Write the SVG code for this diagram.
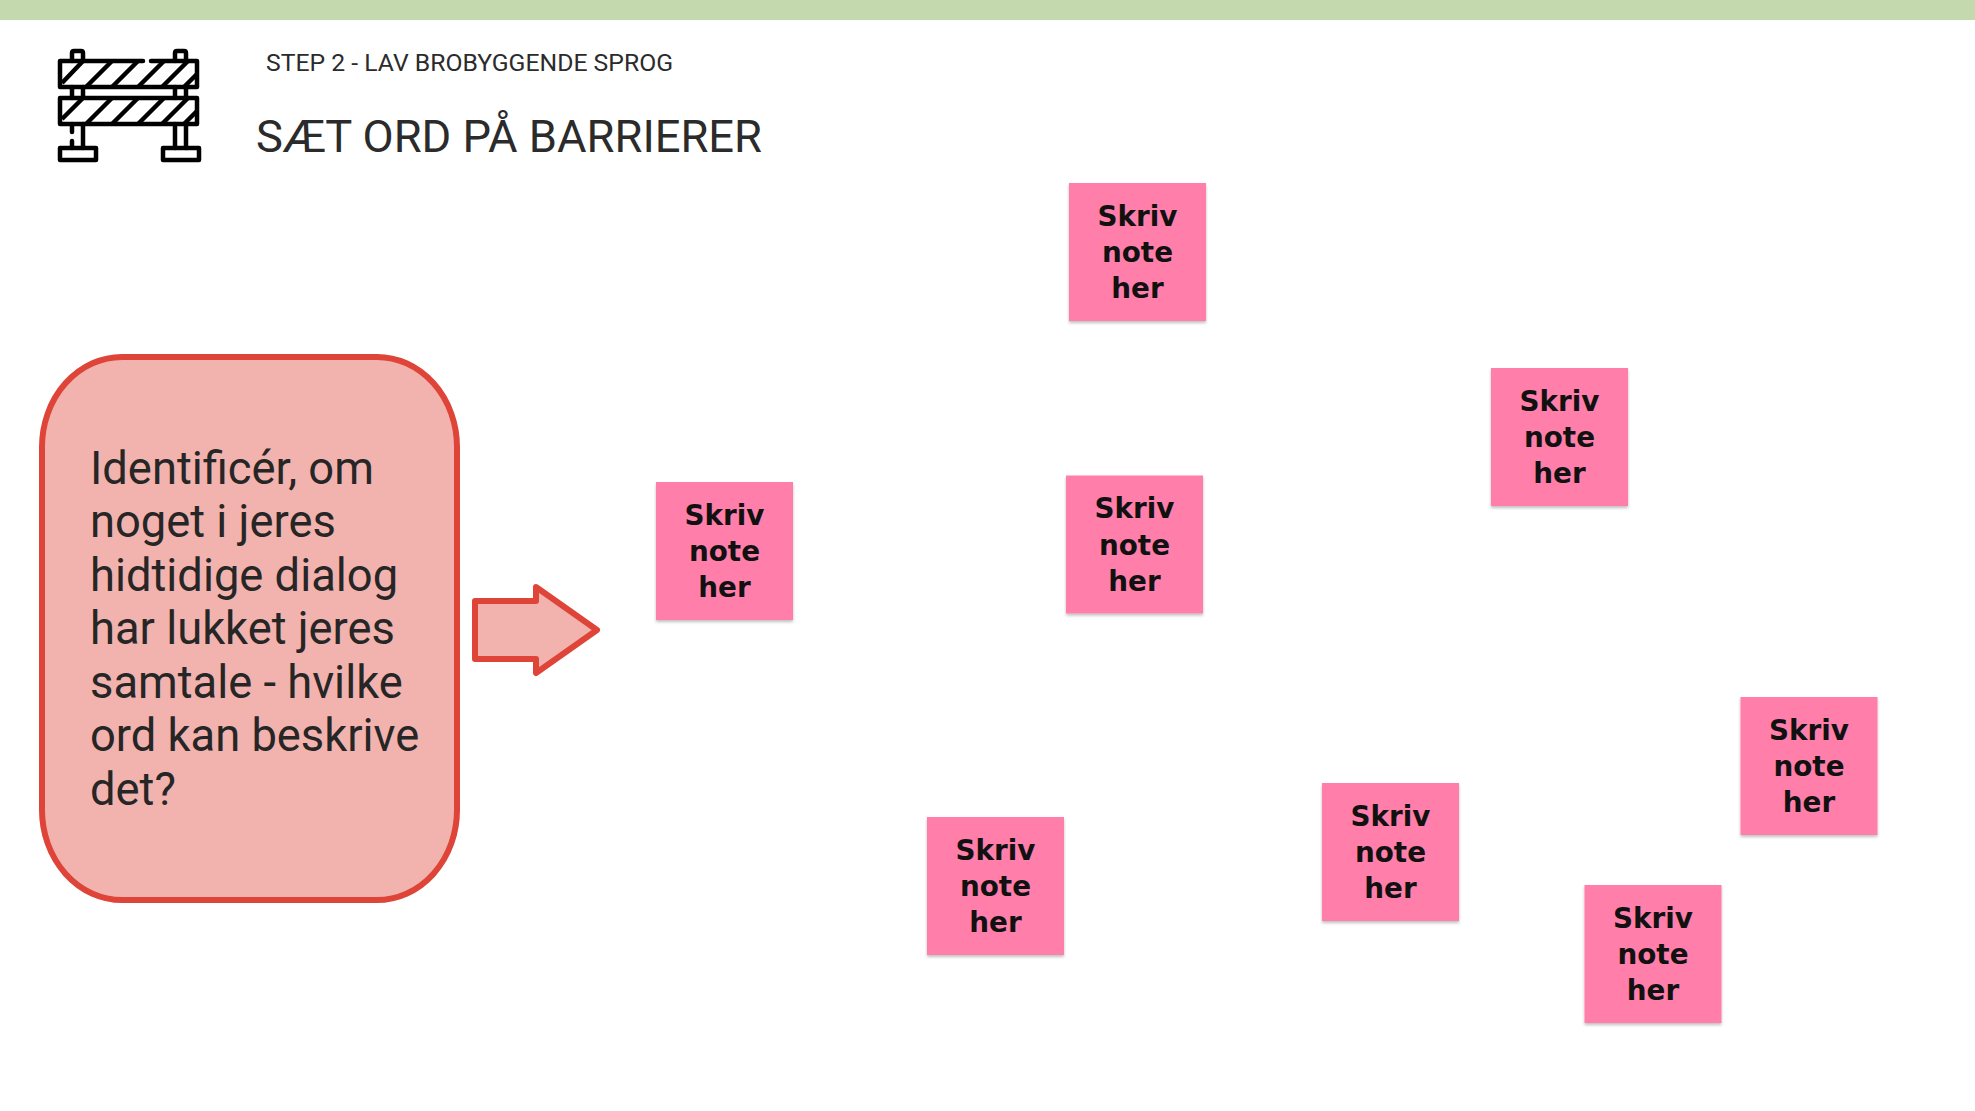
<svg xmlns="http://www.w3.org/2000/svg" width="1975" height="1111" viewBox="0 0 1975 1111">
<defs>
<filter id="sh" x="-5%" y="-5%" width="110%" height="110%"><feDropShadow dx="0" dy="2" stdDeviation="1.5" flood-color="#000" flood-opacity="0.25"/></filter>
<g id="note-shape"><rect width="137" height="138" class="note" filter="url(#sh)"/>
<text class="nt" x="68.500" y="42.500">Skriv</text><text class="nt" x="68.500" y="79">note</text><text class="nt" x="68.500" y="115">her</text></g>
</defs>
<style>
.note{fill:#ff7eaa}
.nt{font-family:"DejaVu Sans",sans-serif;font-weight:700;font-size:27.8px;fill:#111;text-anchor:middle}
.r{font-family:Roboto,sans-serif;fill:#2b2b2b}
.q{font-size:45.300px;fill:#262626}
.ic{fill:none;stroke:#000;stroke-width:4.500;stroke-linejoin:round;stroke-linecap:round}
.ht{fill:none;stroke:#000;stroke-width:4.500}
.red{fill:#f2b2ae;stroke:#de4437;stroke-width:6}
</style>
<rect width="1975" height="1111" fill="#fff"/>
<rect id="topbar" width="1975" height="20" fill="#c5d9ae"/>
<g id="barrier-icon">
<path class="ic" d="M143 61H60V87H197V61H151M60 98H197V124H60Z"/>
<path class="ht" d="M62 83L83 61M86 87L112 61M112 87L138 61M138 87L164 61M162 87L188 61M184 87L197 74M62 119L83 98M86 124L112 98M112 124L138 98M138 124L164 98M162 124L188 98M184 124L197 111"/>
<path class="ic" d="M72 61V53Q72 51 74 51H81Q83 51 83 53V61M175 61V53Q175 51 177 51H184Q186 51 186 53V61M72 87V98M83 87V98M175 87V98M186 87V98"/>
<path class="ic" d="M72 124V132M72 141V148M83 124V148M175 124V148M186 124V148"/>
<rect class="ic" x="60" y="148" width="36" height="12"/><rect class="ic" x="163" y="148" width="36" height="12"/>
</g>
<g id="header">
<text class="r" x="266" y="71" font-size="23.700" fill="#444" textLength="407" lengthAdjust="spacingAndGlyphs">STEP 2 - LAV BROBYGGENDE SPROG</text>
<text class="r" x="256" y="152" font-size="44.500" textLength="506" lengthAdjust="spacingAndGlyphs">SÆT ORD PÅ BARRIERER</text>
</g>
<g id="prompt">
<rect class="red" x="42" y="357" width="415" height="543" rx="80" ry="90"/>
<g class="r q"><text x="90" y="483.500">Identificér, om</text><text x="90" y="537">noget i jeres</text><text x="90" y="590.500">hidtidige dialog</text><text x="90" y="644">har lukket jeres</text><text x="90" y="697.500">samtale - hvilke</text><text x="90" y="751">ord kan beskrive</text><text x="90" y="804.500">det?</text></g>
</g>
<g id="connectors"><path id="arrow" class="red" stroke-linejoin="round" d="M475 601H536V587L597 630L536 673V659H475Z"/></g>
<g id="note-1"><use href="#note-shape" x="1069" y="183"/></g>
<g id="note-2"><use href="#note-shape" x="1491" y="368"/></g>
<g id="note-3"><use href="#note-shape" x="656" y="482"/></g>
<g id="note-4"><use href="#note-shape" x="1066" y="475.500"/></g>
<g id="note-5"><use href="#note-shape" x="1740.500" y="697"/></g>
<g id="note-6"><use href="#note-shape" x="1322" y="783"/></g>
<g id="note-7"><use href="#note-shape" x="927" y="817"/></g>
<g id="note-8"><use href="#note-shape" x="1584.500" y="885"/></g>
</svg>
